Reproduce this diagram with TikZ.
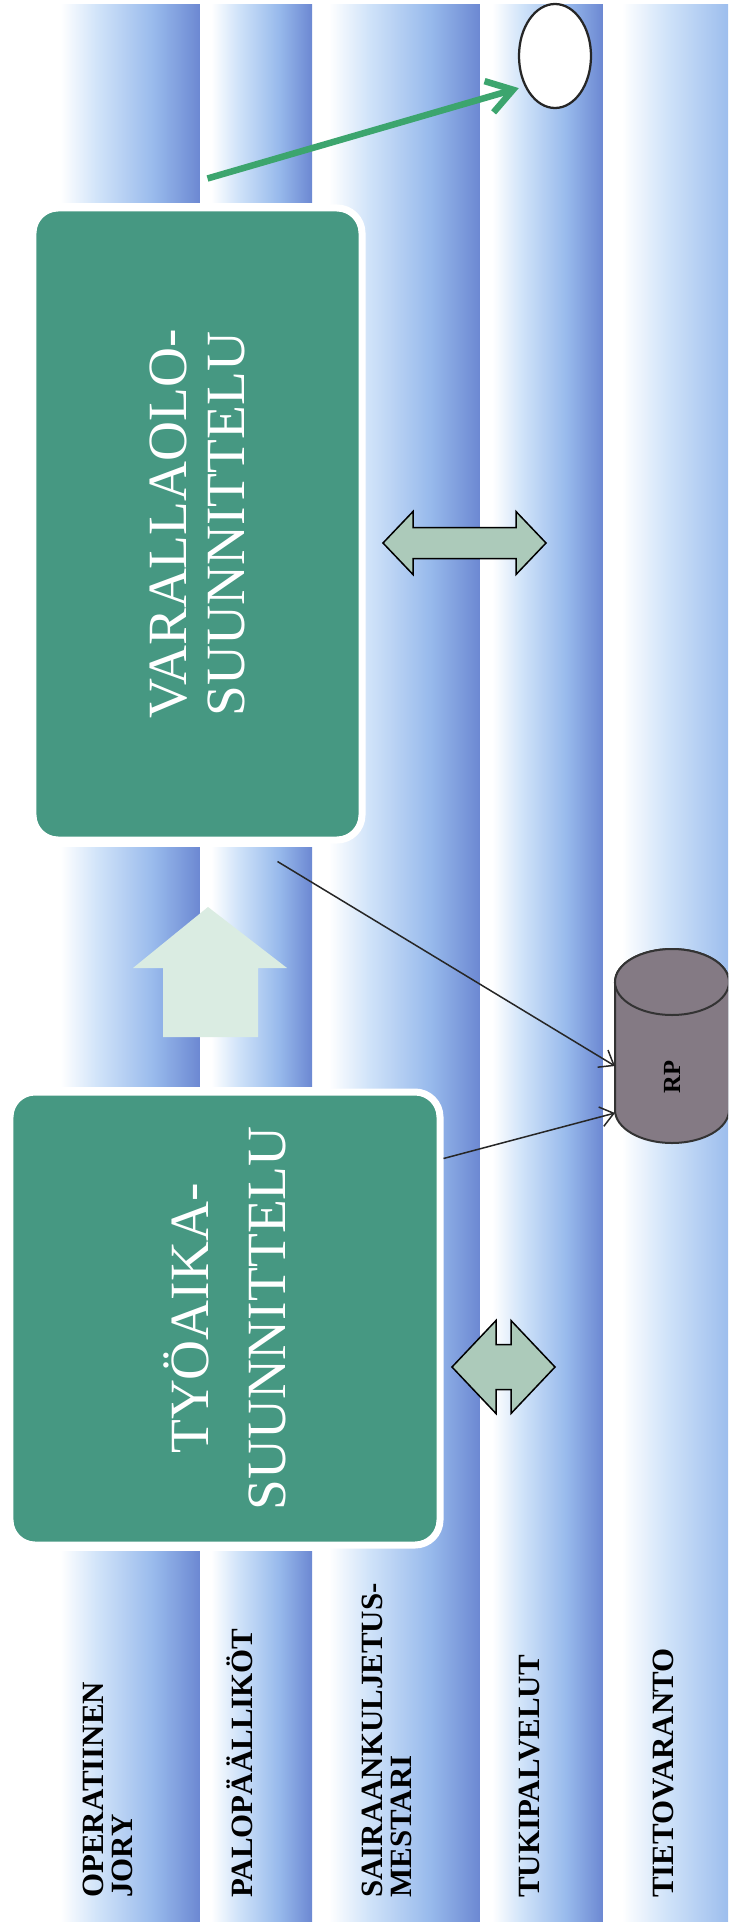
\documentclass[tikz,border=0pt]{standalone}
\usepackage{fontspec}
\setmainfont{Liberation Serif}
\usepackage{tikz}
\usetikzlibrary{arrows.meta,shapes.geometric,calc}
\definecolor{lnblue}{RGB}{108,136,210}
\definecolor{lnmid}{RGB}{152,186,236}
\definecolor{lnlight}{RGB}{208,227,249}
\definecolor{plgreen}{RGB}{70,152,130}
\definecolor{plarrow}{RGB}{60,165,110}
\definecolor{plsync}{RGB}{172,202,186}
\definecolor{plup}{RGB}{218,236,226}
\definecolor{plgray}{RGB}{132,122,132}
\pgfdeclarehorizontalshading{laneshade}{100bp}{color(0bp)=(white); color(25bp)=(white);
  color(30bp)=(white); color(42bp)=(lnlight); color(60bp)=(lnmid);
  color(75bp)=(lnblue); color(100bp)=(lnblue)}

\begin{document}
\begin{tikzpicture}[x=0.2mm, y=-0.2mm,
  lanebg/.style={shading=laneshade},
  planbox/.style={draw=white, line width=1.4mm, fill=plgreen, rounded corners=5mm,
    rotate=90, text=white, align=center, inner sep=0pt},
  lanelabel/.style={rotate=90, anchor=west, align=left, inner sep=0pt,
    font=\fontsize{17.6pt}{16.5pt}\selectfont\bfseries},
  syncarrow/.style={draw=black, line width=0.3mm, fill=plsync},
  feedline/.style={draw=black!85, line width=0.3mm,
    -{Straight Barb[length=2.6mm, width=4mm]}}]

\clip (0,0) rectangle (728,1922);

% --- lanes ---
\shade[lanebg] (312,4) rectangle (480,1922);
\shade[lanebg] (480,4) rectangle (603,1922);
\shade[lanebg] (603,4) rectangle (790,1922);
% lanes 1-2 are cut by the planning boxes
\shade[lanebg] (45,4) rectangle (200,202);
\shade[lanebg] (200,4) rectangle (312,202);
\shade[lanebg] (45,847) rectangle (200,1086);
\shade[lanebg] (200,847) rectangle (312,1086);
\shade[lanebg] (45,1551) rectangle (200,1922);
\shade[lanebg] (200,1551) rectangle (312,1922);

% --- planning boxes ---
\node[planbox, minimum width=126.4mm, minimum height=65.8mm,
  font=\fontsize{31.5pt}{33pt}\selectfont]
  (var) at (197.5,524) {VARALLAOLO-\\SUUNNITTELU};
\node[planbox, minimum width=90.6mm, minimum height=86mm,
  font=\fontsize{31.5pt}{44pt}\selectfont]
  (tyo) at (225,1318.5) {TYÖAIKA-\\SUUNNITTELU};

% up arrow between the boxes
\fill[plup] (208,907) -- (287,968) -- (258,968) -- (258,1037)
  -- (163,1037) -- (163,968) -- (133,968) -- cycle;

% two-way arrows
\draw[syncarrow] (383,543) -- (413,511.5) -- (413,527.5) -- (516,527.5)
  -- (516,511.5) -- (546,543) -- (516,574.5) -- (516,558.5)
  -- (413,558.5) -- (413,574.5) -- cycle;
\draw[syncarrow] (452,1367) -- (496,1320.5) -- (496,1344.5) -- (511,1344.5)
  -- (511,1320.5) -- (555,1367) -- (511,1413.5) -- (511,1389.5)
  -- (496,1389.5) -- (496,1413.5) -- cycle;

% --- targets ---
\node[ellipse, draw=black!85, line width=0.45mm, fill=white,
  minimum width=14.4mm, minimum height=20.8mm, inner sep=0pt]
  (ell) at (555,56) {};

% register cylinder
\draw[black!80, line width=0.4mm, fill=plgray] (615,982) -- (615,1110)
  arc[start angle=180, end angle=360, x radius=11.4mm, y radius=6.6mm]
  -- (729,982)
  arc[start angle=0, end angle=180, x radius=11.4mm, y radius=6.6mm] -- cycle;
\draw[black!80, line width=0.4mm, fill=plgray] (672,982)
  ellipse[x radius=11.4mm, y radius=6.6mm];
\node[rotate=90, minimum height=22.8mm, inner sep=0pt, outer sep=0pt,
  font=\fontsize{14pt}{14pt}\selectfont\bfseries]
  (rp) at (672,1077) {RP};

% --- connectors ---
\draw[line width=1.3mm, plarrow, shorten >=1.2mm,
  -{Straight Barb[length=5mm, width=6.5mm]}]
  ([xshift=2mm, yshift=5.2mm]var.east) -- (ell.225);
\draw[feedline] ([xshift=16mm, yshift=-3.6mm]var.west) -- ([yshift=2.2mm]rp.north);
\draw[feedline] ([yshift=32mm]tyo.south) -- ([yshift=-7.2mm]rp.north);

% --- lane labels ---
\node[lanelabel] (lbjory) at (108,1898) {OPERATIINEN\\JORY};
\node[lanelabel] (lbpalo) at (240,1898) {PALOPÄÄLLIKÖT};
\node[lanelabel] (lbsairaan) at (387,1898) {SAIRAANKULJETUS-\\MESTARI};
\node[lanelabel] (lbtuki) at (530,1898) {TUKIPALVELUT};
\node[lanelabel] (lbtieto) at (663,1898) {TIETOVARANTO};

\end{tikzpicture}
\end{document}
